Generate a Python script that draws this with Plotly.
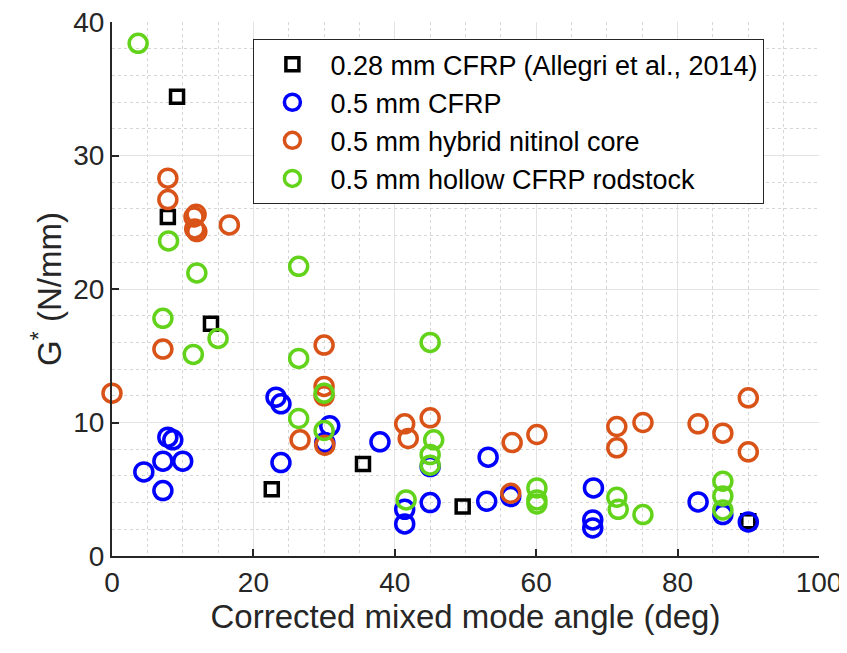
import plotly.graph_objects as go

# ---- data ----
allegri_x = [9.2, 7.9, 14.0, 22.6, 35.5, 49.6, 90.0]
allegri_y = [34.4, 25.4, 17.4, 5.0, 6.9, 3.7, 2.6]

cfrp_x = [4.5, 7.2, 7.2, 7.9, 8.6, 10.0, 23.2, 23.9, 23.9, 30.8, 30.1, 37.9,
          41.4, 41.4, 45.0, 45.0, 53.2, 53.0, 56.4, 68.1, 68.0, 68.0, 82.9, 86.4, 90.0]
cfrp_y = [6.3, 4.9, 7.1, 8.9, 8.7, 7.1, 11.9, 11.4, 7.0, 9.75, 8.5, 8.55,
          3.5, 2.4, 4.0, 6.7, 7.4, 4.1, 4.45, 5.1, 2.7, 2.1, 4.05, 3.1, 2.55]

hybrid_x = [7.9, 7.9, 11.9, 11.6, 11.7, 12.0, 16.6, 0.0, 7.2, 30.0, 30.0, 30.0,
            26.6, 30.1, 41.4, 41.9, 45.0, 56.6, 60.1, 56.4, 71.4, 71.4, 75.1,
            82.9, 86.4, 90.0, 90.0]
hybrid_y = [28.3, 26.7, 25.6, 25.4, 24.5, 24.3, 24.8, 12.2, 15.5, 15.8, 12.7, 12.0,
            8.7, 8.3, 9.9, 8.8, 10.35, 8.5, 9.1, 4.7, 9.7, 8.1, 10.0,
            9.9, 9.2, 11.85, 7.8]

hollow_x = [3.7, 8.0, 12.0, 26.4, 7.2, 15.0, 11.5, 26.4, 30.0, 26.4, 30.0, 45.0,
            45.5, 45.0, 45.0, 41.6, 60.1, 60.1, 60.1, 71.4, 71.6, 75.1, 86.4, 86.4, 86.4]
hollow_y = [38.4, 23.6, 21.2, 21.7, 17.8, 16.3, 15.1, 14.8, 12.2, 10.3, 9.4, 16.0,
            8.7, 7.6, 6.8, 4.2, 5.1, 4.2, 3.9, 4.4, 3.5, 3.1, 5.6, 4.5, 3.45]

series = [
    ("0.28 mm CFRP (Allegri et al., 2014)", allegri_x, allegri_y, "square-open", "black", 13),
    ("0.5 mm CFRP", cfrp_x, cfrp_y, "circle-open", "#0000FF", 18),
    ("0.5 mm hybrid nitinol core", hybrid_x, hybrid_y, "circle-open", "#D95319", 18),
    ("0.5 mm hollow CFRP rodstock", hollow_x, hollow_y, "circle-open", "#62D31A", 18),
]

FONT = "Arial, Liberation Sans, sans-serif"
AX = "#262626"

fig = go.Figure()
for name, xs, ys, sym, col, sz in series:
    fig.add_trace(go.Scatter(
        x=xs, y=ys, mode="markers", name=name, cliponaxis=False,
        marker=dict(symbol=sym, size=sz, color=col, line=dict(width=3.5, color=col)),
    ))

axis_common = dict(
    showline=True, linecolor=AX, linewidth=2, mirror=False,
    ticks="inside", ticklen=7, tickwidth=1.5, tickcolor=AX,
    showgrid=True, gridcolor="#e3e3e3", gridwidth=1,
    zeroline=False, automargin=False, ticklabeloverflow="allow",
    tickfont=dict(size=28, color=AX, family=FONT),
)

fig.update_xaxes(
    range=[0, 100], dtick=20, **axis_common,
    minor=dict(dtick=5, showgrid=True, gridcolor="#d6d6d6", griddash="dot", ticks=""),
    title=dict(text="Corrected mixed mode angle (deg)", font=dict(size=33, color=AX, family=FONT), standoff=5),
)
fig.update_yaxes(
    range=[0, 40], dtick=10, **axis_common,
    minor=dict(dtick=2, showgrid=True, gridcolor="#d6d6d6", griddash="dot", ticks=""),
    title=dict(text="G<sup>*</sup> (N/mm)", font=dict(size=33, color=AX, family=FONT), standoff=2),
)

# page body has an 8px margin, so the figure is a bit smaller than the window
fig.update_layout(
    width=839, height=645,
    margin=dict(l=104, r=28, t=14, b=97),
    paper_bgcolor="white", plot_bgcolor="white",
    font=dict(family=FONT, color=AX),
    showlegend=True,
    legend=dict(
        x=0.2, y=0.968, xanchor="left", yanchor="top",
        bgcolor="white", bordercolor=AX, borderwidth=1,
        font=dict(size=27, color="black", family=FONT),
        itemsizing="trace", itemwidth=66, tracegroupgap=0,
    ),
)

fig.write_html("out.html")
